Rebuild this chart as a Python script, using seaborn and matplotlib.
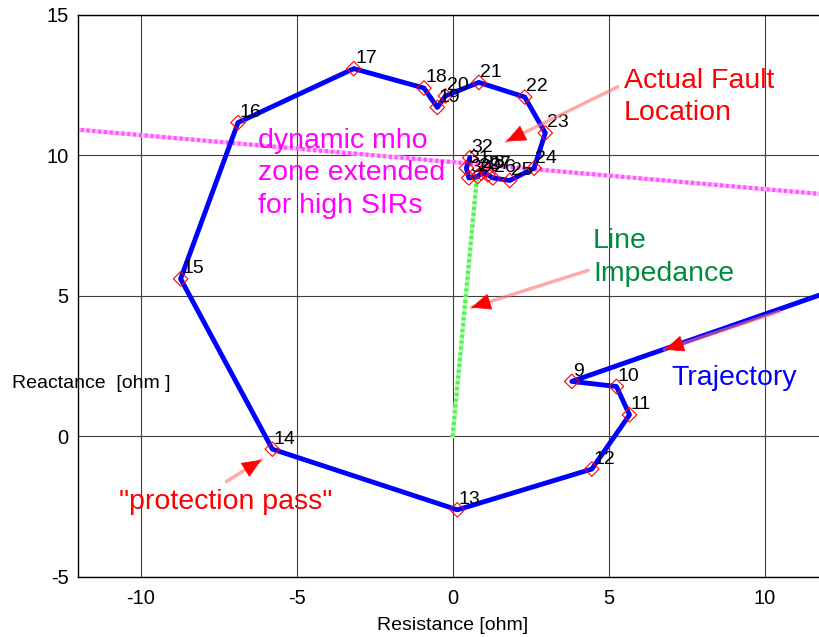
import numpy as np
import pandas as pd
import seaborn as sns
import matplotlib
matplotlib.use("Agg")
import matplotlib.pyplot as plt

# Impedanz-Trajektorie (Punkte 8..32, Punkt 8 liegt rechts ausserhalb)
point_ids = [8, 9, 10, 11, 12, 13, 14, 15, 16, 17, 18, 19, 20,
             21, 22, 23, 24, 25, 26, 27, 28, 29, 30, 31, 32]
resistance = [16.0, 3.82, 5.25, 5.67, 4.46, 0.15, -5.78, -8.72, -6.88, -3.17, -0.92, -0.49, -0.23,
              0.84, 2.31, 2.97, 2.61, 1.83, 1.29, 1.13, 0.92, 0.80, 0.52, 0.44, 0.55]
reactance = [6.67, 1.96, 1.78, 0.77, -1.16, -2.61, -0.45, 5.61, 11.17, 13.09, 12.40, 11.71, 12.12,
             12.60, 12.08, 10.80, 9.55, 9.11, 9.20, 9.31, 9.37, 9.25, 9.20, 9.55, 9.92]

# Leitungsimpedanz und dynamische Mho-Zone
line_r = [0.0, 0.78]
line_x = [0.0, 9.25]
mho_r = [-11.92, 11.8]
mho_x = [10.91, 8.63]

traj = pd.DataFrame({"id": point_ids, "R": resistance, "X": reactance})

sns.set_style("white")
plt.rcParams["font.family"] = ["Liberation Sans", "DejaVu Sans"]
plt.rcParams["axes.unicode_minus"] = False

fig = plt.figure(figsize=(8.2, 6.37), dpi=100)
ax = fig.add_axes([0.0955, 0.0942, 0.913, 0.8823])

# Mho-Zone (gestrichelt, magenta)
ax.plot(mho_r, mho_x, color="#ffb8ff", lw=3, zorder=2)
ax.plot(mho_r, mho_x, color="#ff55ff", lw=3, dashes=(0.7, 0.7), zorder=2)
# Leitungsimpedanz (gruen)
ax.plot(line_r, line_x, color="#b8ffb8", lw=3, zorder=2)
ax.plot(line_r, line_x, color="#55ee55", lw=3, dashes=(0.7, 0.7), zorder=2)

sns.lineplot(data=traj, x="R", y="X", sort=False, estimator=None,
             color="#0000ff", lw=3.5, ax=ax, zorder=3)
sns.scatterplot(data=traj, x="R", y="X", marker="D", s=55, facecolor="none",
                edgecolor="red", linewidth=0.8, ax=ax, zorder=4)

for pid, r, x in zip(point_ids, resistance, reactance):
    ax.annotate(str(pid), (r, x), xytext=(1, 4), textcoords="offset points",
                ha="left", va="baseline", fontsize=14, color="black", zorder=5)

# Pfeile: Schaft hellrot, Spitze rot
def arrow(tail, tip):
    ax.annotate("", xy=tip, xytext=tail,
                arrowprops=dict(arrowstyle="-", color="#ff7070", lw=2.5, alpha=0.6,
                                shrinkA=0, shrinkB=0), zorder=6)
    vec = np.array(tip) - np.array(tail)
    base = np.array(tip) - vec / np.linalg.norm(vec * [31.2, 28.1]) * 18
    ax.annotate("", xy=tip, xytext=tuple(base),
                arrowprops=dict(arrowstyle="-|>,head_length=1.3,head_width=0.55",
                                color="red", lw=0.5, shrinkA=0, shrinkB=0), zorder=7)

arrow((5.29, 12.44), (1.72, 10.50))
arrow((4.34, 5.91), (0.60, 4.59))
arrow((10.48, 4.45), (6.79, 3.09))
arrow((-7.25, -1.60), (-6.13, -0.83))

big = 20.5
ls = 1.33
ax.text(5.48, 13.12, "Actual Fault\nLocation", color="red", fontsize=big,
        ha="left", va="top", linespacing=ls)
ax.text(-6.24, 10.99, "dynamic mho\nzone extended\nfor high SIRs", color="#ff00ff",
        fontsize=big, ha="left", va="top", linespacing=ls)
ax.text(4.50, 7.42, "Line\nImpedance", color="#008c3c", fontsize=big,
        ha="left", va="top", linespacing=ls)
ax.text(7.01, 2.55, "Trajectory", color="#0000ff", fontsize=big, ha="left", va="top")
ax.text(-10.71, -1.86, "\"protection pass\"", color="red", fontsize=big, ha="left", va="top")

ax.set_xlim(-12, 12)
ax.set_ylim(-5, 15)
ax.set_xticks([-10, -5, 0, 5, 10])
ax.set_yticks([-5, 0, 5, 10, 15])
ax.grid(True, color="#404040", lw=0.8)
ax.tick_params(length=0, labelsize=14.5, labelcolor="black")
ax.tick_params(axis="x", pad=9)
ax.tick_params(axis="y", pad=7)
for s in ax.spines.values():
    s.set_color("black")
    s.set_linewidth(1)

ax.set_xlabel("Resistance [ohm]", fontsize=14, labelpad=6, color="black")
ax.set_ylabel("Reactance  [ohm ]", fontsize=14, rotation=0, ha="left", va="center",
              color="black")
ax.yaxis.set_label_coords(-0.0885, 0.345)

fig.savefig("out.png", dpi=100)
